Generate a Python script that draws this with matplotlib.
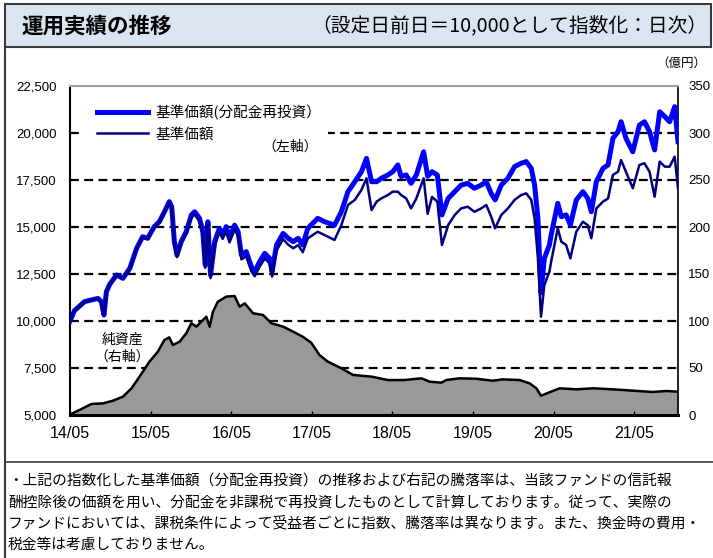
import numpy as np
import pandas as pd
import matplotlib
matplotlib.use('Agg')
import matplotlib.pyplot as plt
import matplotlib.dates as mdates
from matplotlib.patches import Rectangle
from matplotlib.lines import Line2D

plt.rcParams['font.family'] = ['Noto Sans CJK JP', 'DejaVu Sans']

# 基準価額 (分配金再投資) / 基準価額 : 指数化した値
dates = ['2014-05-01', '2014-05-21', '2014-07-06', '2014-08-06', '2014-09-05', '2014-09-20',
         '2014-10-02', '2014-10-13', '2014-10-28', '2014-11-28', '2014-12-27', '2015-01-27',
         '2015-02-27', '2015-03-26', '2015-04-18', '2015-05-18', '2015-06-10', '2015-07-03',
         '2015-07-25', '2015-08-05', '2015-08-17', '2015-08-29', '2015-09-17', '2015-10-10',
         '2015-11-02', '2015-11-17', '2015-12-09', '2015-12-24', '2016-01-04', '2016-01-16',
         '2016-01-28', '2016-02-16', '2016-03-08', '2016-03-23', '2016-04-08', '2016-04-23',
         '2016-05-16', '2016-06-01', '2016-06-16', '2016-07-08', '2016-07-31', '2016-08-15',
         '2016-09-07', '2016-09-30', '2016-10-22', '2016-11-02', '2016-11-22', '2016-12-22',
         '2017-01-14', '2017-02-06', '2017-02-28', '2017-03-21', '2017-04-13', '2017-05-28',
         '2017-06-28', '2017-08-12', '2017-09-12', '2017-10-12', '2017-11-12', '2017-12-12',
         '2018-01-04', '2018-01-27', '2018-02-19', '2018-03-12', '2018-04-11', '2018-05-03',
         '2018-05-26', '2018-06-10', '2018-07-03', '2018-07-25', '2018-08-18', '2018-09-20',
         '2018-10-08', '2018-10-28', '2018-11-21', '2018-12-12', '2019-01-09', '2019-02-08',
         '2019-03-09', '2019-04-08', '2019-05-08', '2019-06-08', '2019-07-01', '2019-07-23',
         '2019-08-10', '2019-09-07', '2019-10-07', '2019-11-06', '2019-12-06', '2019-12-29',
         '2020-01-21', '2020-02-05', '2020-02-20', '2020-03-05', '2020-03-20', '2020-04-12',
         '2020-04-20', '2020-05-20', '2020-06-05', '2020-06-27', '2020-07-16', '2020-08-12',
         '2020-09-11', '2020-10-03', '2020-10-19', '2020-11-11', '2020-12-11', '2021-01-03',
         '2021-01-25', '2021-02-17', '2021-03-03', '2021-03-25', '2021-04-25', '2021-05-25',
         '2021-06-17', '2021-07-10', '2021-08-02', '2021-08-25', '2021-09-17', '2021-10-09',
         '2021-11-01', '2021-11-16']

nav_reinvest = [10000, 10550, 11030, 11120, 11200, 11030, 10320, 11560, 11950, 12450, 12270, 12800,
                13870, 14480, 14400, 15020, 15280, 15810, 16350, 16080, 14220, 13510, 14220, 14750,
                15640, 15810, 15460, 14750, 12980, 15280, 12450, 14220, 14930, 14570, 15020, 14400,
                15100, 14750, 13510, 13690, 12890, 12620, 13160, 13600, 13330, 12620, 14040, 14660,
                14400, 14220, 14400, 14040, 14930, 15460, 15280, 15100, 15810, 16880, 17410, 17940,
                18650, 17410, 17410, 17590, 17770, 17940, 18300, 17680, 17770, 17320, 17770, 19000,
                17700, 17940, 17770, 15640, 16520, 16880, 17230, 17320, 17060, 17230, 17410, 16790,
                16440, 17230, 17590, 18210, 18390, 18480, 18120, 17230, 15460, 11500, 13330, 14040,
                14570, 16260, 15550, 15640, 15100, 16440, 16880, 16520, 15810, 17410, 18120, 18300,
                19720, 20070, 20600, 19720, 19000, 20420, 20600, 20070, 19100, 21130, 20870, 20600,
                21400, 19540]

nav = [10000, 10550, 11020, 11110, 11190, 11020, 10310, 11550, 11940, 12440, 12250, 12780,
       13840, 14440, 14360, 14970, 15220, 15740, 16270, 16000, 14130, 13400, 14110, 14630,
       15500, 15660, 15300, 14590, 12830, 15100, 12280, 14030, 14730, 14370, 14800, 14180,
       14870, 14510, 13280, 13440, 12650, 12380, 12900, 13330, 13060, 12360, 13750, 14350,
       14060, 13870, 14040, 13660, 14400, 14750, 14570, 14310, 15100, 16170, 16440, 16970,
       17590, 15900, 16350, 16520, 16700, 16880, 16880, 16700, 16520, 15990, 16520, 17590,
       15700, 16600, 16350, 14040, 15100, 15640, 15990, 16080, 15810, 15990, 16170, 15550,
       14930, 15640, 15990, 16440, 16700, 16790, 16440, 15460, 13330, 10230, 11910, 12620,
       13160, 14930, 14220, 14040, 13330, 14750, 15280, 15100, 14400, 15990, 16350, 16520,
       17770, 17940, 18560, 17940, 17060, 18300, 18390, 17940, 16610, 18480, 18210, 18210,
       18740, 17060]

# 純資産 (億円)
na_dates = ['2014-05-01', '2014-06-13', '2014-08-06', '2014-09-28', '2014-11-12', '2014-12-27',
            '2015-02-04', '2015-03-12', '2015-04-26', '2015-06-03', '2015-07-03', '2015-07-25',
            '2015-08-10', '2015-09-10', '2015-10-10', '2015-11-02', '2015-11-25', '2015-12-17',
            '2016-01-09', '2016-01-24', '2016-02-08', '2016-03-01', '2016-04-08', '2016-05-16',
            '2016-06-08', '2016-07-01', '2016-08-08', '2016-09-22', '2016-10-30', '2016-12-22',
            '2017-02-06', '2017-03-21', '2017-04-28', '2017-06-05', '2017-07-13', '2017-09-12',
            '2017-11-04', '2018-01-27', '2018-04-11', '2018-06-25', '2018-09-10', '2018-10-17',
            '2018-12-09', '2019-01-01', '2019-03-01', '2019-05-16', '2019-07-30', '2019-09-14',
            '2019-11-29', '2020-01-13', '2020-02-13', '2020-03-05', '2020-04-12', '2020-05-28',
            '2020-08-12', '2020-10-26', '2021-01-25', '2021-04-25', '2021-07-24', '2021-09-24',
            '2021-11-16']
net_assets = [0.5, 5.3, 11.7, 12.4, 15.2, 19.5, 28.4, 40.8, 56.7, 67.3, 79.8, 82.6,
              74.5, 78.0, 86.9, 97.6, 94.0, 99.3, 104.6, 94.0, 109.9, 120.5, 125.9, 126.6,
              115.2, 118.8, 108.2, 106.4, 97.6, 94.0, 88.6, 83.3, 77.0, 63.8, 56.7, 49.7,
              42.6, 40.8, 37.2, 37.2, 39.0, 35.5, 34.4, 37.2, 39.0, 38.6, 36.5, 37.9,
              37.2, 33.7, 28.4, 20.5, 24.1, 28.4, 27.3, 28.4, 27.3, 25.9, 24.5, 25.5,
              24.8]

left_ticks = [5000, 7500, 10000, 12500, 15000, 17500, 20000, 22500]
right_ticks = [0, 50, 100, 150, 200, 250, 300, 350]
grid_vals = [50, 100, 150, 200, 250, 300]

W, H = 713, 558
fig = plt.figure(figsize=(W / 100, H / 100), dpi=100)


def fx(x):
    return x / W


def fy(y):
    return 1 - y / H


# header band
fig.add_artist(Rectangle((fx(5), fy(47)), fx(706), 43 / H, transform=fig.transFigure,
                         facecolor='#dbe5f1', edgecolor='#3a3a3a', lw=1.5))
fig.add_artist(Line2D([fx(5), fx(5)], [fy(47), 0], transform=fig.transFigure, color='#3a3a3a', lw=1.5))
fig.add_artist(Line2D([fx(5), 1], [fy(462), fy(462)], transform=fig.transFigure, color='#3a3a3a', lw=1.2))
fig.text(fx(21), fy(26), '運用実績の推移', fontsize=15.5, fontweight='bold', va='center', ha='left')
fig.text(fx(707), fy(26), '（設定日前日＝10,000として指数化：日次）', fontsize=14.2, va='center', ha='right')
fig.text(fx(706), fy(63), '（億円）', fontsize=9, va='center', ha='right')

notes = ['・上記の指数化した基準価額（分配金再投資）の推移および右記の騰落率は、当該ファンドの信託報',
         '酬控除後の価額を用い、分配金を非課税で再投資したものとして計算しております。従って、実際の',
         'ファンドにおいては、課税条件によって受益者ごとに指数、騰落率は異なります。また、換金時の費用・',
         '税金等は考慮しておりません。']
for i, line in enumerate(notes):
    fig.text(fx(8), fy(482 + i * 20.8), line, fontsize=10.6, va='center', ha='left')

# axes
ax1 = fig.add_axes([fx(70), fy(415), 608 / W, 329 / H])
ax2 = ax1.twinx()
ax1.set_zorder(2)
ax2.set_zorder(1)
ax1.patch.set_visible(False)

d = pd.to_datetime(dates)
nd = pd.to_datetime(na_dates)

for g in grid_vals:
    ax2.axhline(g, color='black', lw=1.6, ls=(0, (4, 2.4)), zorder=0.5)
ax2.fill_between(nd, 0, net_assets, color='#999999', lw=0, zorder=1)
ax2.plot(nd, net_assets, color='black', lw=1.8, zorder=2)
ax2.set_ylim(0, 350)
ax2.set_yticks(right_ticks)
ax2.set_yticklabels([str(v) for v in right_ticks], fontsize=9.5, family='Liberation Sans')
ax2.tick_params(axis='y', length=0, pad=7.5)
for s in ax2.spines.values():
    s.set_visible(False)

l1, = ax1.plot(d, nav_reinvest, color='#0000ff', lw=3.6, zorder=3)
l2, = ax1.plot(d, nav, color='#000080', lw=1.8, zorder=4)
ax1.set_ylim(5000, 22500)
ax1.set_yticks(left_ticks)
ax1.set_yticklabels([f'{v:,}' for v in left_ticks], fontsize=9.5, family='Liberation Sans')
ax1.tick_params(axis='y', length=0, pad=9.5)
ax1.set_xlim(pd.Timestamp('2014-05-01'), pd.Timestamp('2021-11-16'))
ax1.xaxis.set_major_locator(mdates.MonthLocator(bymonth=5))
ax1.xaxis.set_major_formatter(mdates.DateFormatter('%y/%m'))
ax1.tick_params(axis='x', direction='in', length=3, width=1, pad=8, labelsize=11.5)
for lab in ax1.get_xticklabels():
    lab.set_family('Liberation Sans')

ax1.spines['left'].set_linewidth(1.5)
ax1.spines['bottom'].set_linewidth(2.2)
ax1.spines['right'].set_linewidth(1.2)
ax1.spines['top'].set_color('#a0a0a0')
ax1.spines['top'].set_linewidth(1.5)

# legend
ax1.add_patch(Rectangle((0.0164, 0.775), 0.408, 0.195, transform=ax1.transAxes,
                        facecolor='white', edgecolor='none', zorder=1))
ax1.legend([l1, l2], ['基準価額(分配金再投資）', '基準価額'], loc='upper left',
           bbox_to_anchor=(0.0444, 0.944), frameon=False, borderpad=0, borderaxespad=0,
           handlelength=3.5, handletextpad=0.5, labelspacing=0.52, fontsize=10.5)
ax1.text(0.362, 0.815, '（左軸）', transform=ax1.transAxes, fontsize=10, ha='center', va='center')
ax1.text(0.0855, 0.204, '純資産\n（右軸）', transform=ax1.transAxes, fontsize=10,
         ha='center', va='center', linespacing=1.3)

fig.savefig('out.png', dpi=100)
